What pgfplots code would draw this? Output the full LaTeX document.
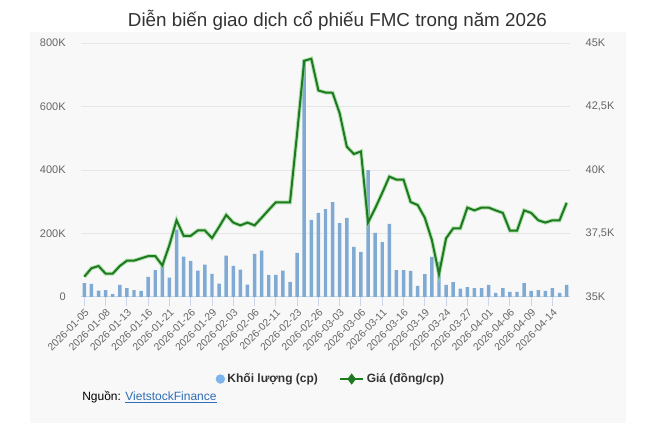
\documentclass[border=0pt]{standalone}
\usepackage{fontspec}
\setmainfont{Liberation Sans}
\usepackage{pgfplots}
\pgfplotsset{compat=1.18}
\usepackage{pgfplotstable}

\definecolor{barblue}{HTML}{7FAAD4}
\definecolor{legblue}{HTML}{7CB5EC}
\definecolor{pricegreen}{HTML}{1E7A1E}
\definecolor{halo}{HTML}{8CD68C}
\definecolor{bgpanel}{HTML}{F8F8F8}
\definecolor{gridgray}{HTML}{E6E6E6}
\definecolor{axisgray}{HTML}{CCD6EB}
\definecolor{ticktext}{HTML}{666666}
\definecolor{titletext}{HTML}{333333}
\definecolor{linkblue}{HTML}{2F6DB5}

% volume in thousand shares, price in thousand VND
\pgfplotstableread{
idx vol price
0 44 35.80
1 41 36.13
2 20 36.22
3 22 35.92
4 9 35.92
5 38 36.22
6 28 36.43
7 22 36.43
8 19 36.52
9 63 36.61
10 85 36.61
11 98 36.24
12 61 37.05
13 212 38.02
14 127 37.41
15 114 37.41
16 83 37.62
17 102 37.62
18 73 37.32
19 42 37.76
20 130 38.23
21 98 37.93
22 86 37.82
23 39 37.93
24 136 37.82
25 146 38.12
26 70 38.43
27 70 38.73
28 83 38.73
29 48 38.73
30 139 41.45
31 747 44.30
32 243 44.38
33 265 43.13
34 277 43.05
35 299 43.04
36 233 42.23
37 249 40.92
38 158 40.63
39 142 40.73
40 400 37.93
41 202 38.49
42 173 39.10
43 230 39.74
44 85 39.62
45 85 39.62
46 82 38.74
47 35 38.62
48 72 38.12
49 126 37.24
50 111 35.90
51 38 37.31
52 47 37.70
53 26 37.70
54 31 38.52
55 28 38.41
56 28 38.52
57 38 38.52
58 13 38.41
59 28 38.31
60 16 37.61
61 16 37.61
62 44 38.41
63 19 38.31
64 22 38.02
65 19 37.93
66 28 38.02
67 13 38.02
68 38 38.71
}\fmc

\begin{document}
\begin{tikzpicture}[x=0.75pt,y=0.75pt]
\useasboundingbox (0,0) rectangle (662,439);
\fill[white] (0,0) rectangle (662,439);
\fill[bgpanel] (30,16) rectangle (626,407);
\node[font=\fontsize{14.1}{17}\selectfont, text=titletext] at (337.5,419)
  {Diễn biến giao dịch cổ phiếu FMC trong năm 2026};

\begin{axis}[
  at={(60.75pt,106.5pt)}, anchor=south west,
  scale only axis, width=366.75pt, height=190.5pt,
  xmin=-0.47, xmax=68.47, ymin=0, ymax=800,
  axis x line*=bottom, axis y line*=left,
  x axis line style={draw=axisgray, line width=0.75pt},
  y axis line style={draw=none},
  ytick={0,200,400,600,800},
  yticklabels={0,200K,400K,600K,800K},
  ytick style={draw=none},
  ymajorgrids, grid style={gridgray, line width=0.75pt},
  xtick={0,3,...,66},
  xticklabels={2026-01-05,2026-01-08,2026-01-13,2026-01-16,2026-01-21,2026-01-26,
    2026-01-29,2026-02-03,2026-02-06,2026-02-11,2026-02-23,2026-02-26,2026-03-03,
    2026-03-06,2026-03-11,2026-03-16,2026-03-19,2026-03-24,2026-03-27,2026-04-01,
    2026-04-06,2026-04-09,2026-04-14},
  xtick style={draw=axisgray, line width=0.75pt},
  tick align=outside, major tick length=7pt,
  xticklabel style={rotate=45, anchor=north east, inner sep=1pt,
    font=\fontsize{7.8}{9}\selectfont, text=ticktext},
  yticklabel style={font=\fontsize{8.25}{10}\selectfont, text=ticktext, xshift=-1pt},
  ybar, bar width=2.6pt,
]
\addplot[fill=barblue, draw=none] table[x=idx, y=vol]{\fmc};
\end{axis}

\begin{axis}[
  at={(60.75pt,106.5pt)}, anchor=south west,
  scale only axis, width=366.75pt, height=190.5pt,
  xmin=-0.47, xmax=68.47, ymin=35, ymax=45,
  axis x line=none, axis y line*=right,
  y axis line style={draw=none},
  ytick={35,37.5,40,42.5,45},
  yticklabels={35K,{37,5K},40K,{42,5K},45K},
  ytick style={draw=none},
  yticklabel style={font=\fontsize{8.25}{10}\selectfont, text=ticktext, xshift=8.25pt},
  legend style={at={(0.512,-0.323)}, anchor=center, draw=none, fill=none,
    font=\fontsize{9}{11}\selectfont\bfseries, text=titletext,
    /tikz/every even column/.append style={column sep=14pt}},
  legend columns=2,
]
\addplot[halo, line width=3pt, opacity=0.6, forget plot] table[x=idx, y=price]{\fmc};
\addplot[pricegreen, line width=1.5pt, forget plot] table[x=idx, y=price]{\fmc};
\addlegendimage{only marks, mark=*, mark size=3.3pt, color=legblue}
\addlegendentry{Khối lượng (cp)}
\addlegendimage{pricegreen, line width=1.5pt, mark=diamond*, mark size=3pt}
\addlegendentry{Giá (đồng/cp)}
\end{axis}

\node[anchor=west, font=\fontsize{9}{11}\selectfont, inner sep=0pt] at (82,42)
  {Nguồn: \textcolor{linkblue}{\underline{VietstockFinance}}};
\end{tikzpicture}
\end{document}
